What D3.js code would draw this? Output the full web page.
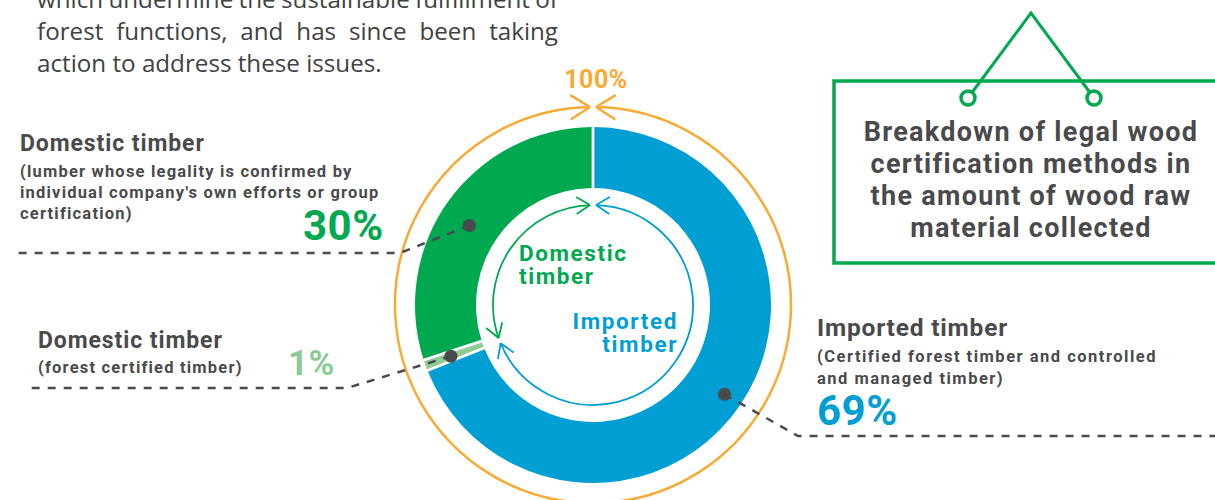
<!DOCTYPE html>
<meta charset="utf-8">
<style>
body { margin: 0; background: #fff; }
svg { display: block; }
.para { font: 400 24.2px "Open Sans", sans-serif; fill: #414143; }
.lbl { font-family: Roboto, sans-serif; font-weight: 700; fill: #4a4a4c; }
.head { font-size: 23px; letter-spacing: 0.9px; }
.head.big { font-size: 24.5px; letter-spacing: 0.8px; }
.sub { font-size: 16.5px; letter-spacing: 1.2px; }
.sub.wide { letter-spacing: 1.5px; }
.pct { font-size: 42px; letter-spacing: 0.5px; }
.pct.small { font-size: 35px; }
.title { font-family: Roboto, sans-serif; font-weight: 700; font-size: 27px; fill: #4a4a4c; letter-spacing: 1.3px; text-anchor: middle; }
.lead { fill: none; stroke: #4a4a4c; stroke-width: 2.5; stroke-dasharray: 8 8; }
</style>
<svg width="1215" height="500"></svg>
<script src="https://d3js.org/d3.v7.min.js"></script>
<script>

////////// Data //////////////
var categories = ["Imported timber", "Domestic timber (forest certified)", "Domestic timber (own efforts / group)"];
var shares = [69, 1, 30];
var shareLabels = ["69%", "1%", "30%"];
var totalLabel = "100%";
var colors = ["#009fd3", "#8ccb94", "#00a94f"];

var paragraph = [
  "which undermine the sustainable fulfillment of",
  "forest functions, and has since been taking",
  "action to address these issues."
];
var titleLines = [
  "Breakdown of legal wood",
  "certification methods in",
  "the amount of wood raw",
  "material collected"
];

////////// Layout //////////////
var svg = d3.select("svg"),
    cx = 593, cy = 305,
    rOuter = 178, rInner = 117, rRing = 198, rInnerArrow = 100;

var green = "#00a94f", blue = "#009fd3", orange = "#f7ab35", dark = "#4a4a4c";

// top paragraph (justified, last line left)
var paraWidth = 521;
svg.selectAll(".para").data(paragraph).enter().append("text")
  .attr("class", "para")
  .attr("x", 37)
  .attr("y", function(d, i) { return 7.5 + i * 32.3; })
  .text(function(d) { return d; })
  .each(function(d, i) {
    if (i === paragraph.length - 1) return;
    var w = this.getComputedTextLength(),
        spaces = d.split(" ").length - 1;
    d3.select(this).style("word-spacing", ((paraWidth - w) / spaces) + "px");
  });

// title box
var box = svg.append("g");
box.append("rect")
  .attr("x", 834).attr("y", 81).attr("width", 400).attr("height", 182)
  .attr("fill", "none").attr("stroke", green).attr("stroke-width", 3.5);
box.append("path")
  .attr("d", "M968,98L1031,13L1094,98")
  .attr("fill", "none").attr("stroke", green).attr("stroke-width", 3);
[968, 1094].forEach(function(x) {
  box.append("circle").attr("cx", x).attr("cy", 98).attr("r", 7)
    .attr("fill", "#fff").attr("stroke", green).attr("stroke-width", 3.5);
});
box.selectAll(".title").data(titleLines).enter().append("text")
  .attr("class", "title")
  .attr("x", 1031)
  .attr("y", function(d, i) { return 141 + i * 32; })
  .text(function(d) { return d; });

////////// Donut //////////////
var g = svg.append("g").attr("transform", "translate(" + cx + "," + cy + ")");

var pie = d3.pie().sort(null).value(function(d) { return d; });
var arcs = pie(shares);

var arc = d3.arc()
  .innerRadius(rInner)
  .outerRadius(rOuter)
  .padRadius(100)
  .padAngle(0.028);

g.selectAll(".slice").data(arcs).enter().append("path")
  .attr("class", "slice")
  .attr("d", arc)
  .attr("fill", function(d, i) { return colors[i]; });

// arrows helpers (d3 angle: 0 = top, clockwise)
function pt(r, a) { return [r * Math.sin(a), -r * Math.cos(a)]; }

function arcPath(r, a0, a1, ccw) {
  var p = d3.path();
  p.arc(0, 0, r, a0 - Math.PI / 2, a1 - Math.PI / 2, ccw);
  return p.toString();
}

function chevron(r, a, dir, len, col, w) {
  // dir = +1 pointing clockwise, -1 counterclockwise
  var tip = pt(r, a);
  var dx = Math.cos(a) * dir, dy = Math.sin(a) * dir;
  var th = 32 * Math.PI / 180;
  var p = d3.path();
  [-th, th].forEach(function(t) {
    var ux = dx * Math.cos(t) - dy * Math.sin(t),
        uy = dx * Math.sin(t) + dy * Math.cos(t);
    p.moveTo(tip[0] - ux * len, tip[1] - uy * len);
    p.lineTo(tip[0], tip[1]);
  });
  g.append("path").attr("d", p.toString())
    .attr("fill", "none").attr("stroke", col).attr("stroke-width", w);
}

// orange total ring
var dRing = 3 / rRing;
g.append("path").attr("d", arcPath(rRing, dRing, 2 * Math.PI - dRing, false))
  .attr("fill", "none").attr("stroke", orange).attr("stroke-width", 2.5);
chevron(rRing, dRing, -1, 23, orange, 2.5);
chevron(rRing, 2 * Math.PI - dRing, 1, 23, orange, 2.5);

svg.append("text")
  .attr("class", "lbl")
  .attr("x", cx + 3).attr("y", 88)
  .attr("text-anchor", "middle")
  .style("font-size", "25px").style("fill", orange).style("letter-spacing", "0.5px")
  .text(totalLabel);

// inner arrows: domestic (ccw from top) and imported (cw from top)
var split = arcs[0].endAngle;
var dIn = 3 / rInnerArrow;
g.append("path").attr("d", arcPath(rInnerArrow, 2 * Math.PI - dIn, split + 0.04, true))
  .attr("fill", "none").attr("stroke", green).attr("stroke-width", 1.8);
chevron(rInnerArrow, 2 * Math.PI - dIn, 1, 16, green, 1.8);
chevron(rInnerArrow, split + 0.04, -1, 16, green, 1.8);

g.append("path").attr("d", arcPath(rInnerArrow, dIn, split - 0.015, false))
  .attr("fill", "none").attr("stroke", blue).attr("stroke-width", 1.8);
chevron(rInnerArrow, dIn, -1, 16, blue, 1.8);
chevron(rInnerArrow, split - 0.015, 1, 16, blue, 1.8);

// center labels
var center = svg.append("g").attr("class", "lbl").style("font-size", "22.5px").style("letter-spacing", "1.6px");
center.append("text").attr("x", 519).attr("y", 261).style("fill", green).text("Domestic");
center.append("text").attr("x", 519).attr("y", 284).style("fill", green).text("timber");
center.append("text").attr("x", 678).attr("y", 329).attr("text-anchor", "end").style("fill", blue).text("Imported");
center.append("text").attr("x", 678).attr("y", 352).attr("text-anchor", "end").style("fill", blue).text("timber");

////////// Leaders + labels //////////////
// where on each slice the dot sits (fraction along the slice, radius),
// then elbow and end of each dashed leader
var leaders = [
  { t: 0.5, r: 159, elbow: [798, 436], end: [1215, 436] },
  { t: 0.5, r: 151, elbow: [347, 388], end: [30, 388] },
  { t: 0.47, r: 147, elbow: [400, 253], end: [17, 253] }
];

arcs.forEach(function(d, i) {
  var L = leaders[i];
  var a = d.startAngle + L.t * (d.endAngle - d.startAngle);
  var c = pt(L.r, a);
  var x = cx + c[0], y = cy + c[1];
  svg.append("path").attr("class", "lead")
    .attr("d", "M" + x + "," + y + "L" + L.elbow + "L" + L.end);
  svg.append("circle").attr("cx", x).attr("cy", y).attr("r", 6.5).attr("fill", dark);
});

function label(x, lines) {
  lines.forEach(function(l) {
    svg.append("text")
      .attr("class", "lbl " + l.cls)
      .attr("x", l.x !== undefined ? l.x : x)
      .attr("y", l.y)
      .style("fill", l.fill || null)
      .text(l.t);
  });
}

label(20, [
  { cls: "head", y: 151, t: "Domestic timber" },
  { cls: "sub", y: 177, t: "(lumber whose legality is confirmed by" },
  { cls: "sub", y: 198, t: "individual company's own efforts or group" },
  { cls: "sub", y: 219, t: "certification)" },
  { cls: "pct", x: 303, y: 240, fill: colors[2], t: shareLabels[2] }
]);

label(38, [
  { cls: "head", y: 348, t: "Domestic timber" },
  { cls: "sub", y: 373, t: "(forest certified timber)" },
  { cls: "pct small", x: 288, y: 375, fill: colors[1], t: shareLabels[1] }
]);

label(817, [
  { cls: "head big", y: 336, t: "Imported timber" },
  { cls: "sub wide", y: 362, t: "(Certified forest timber and controlled" },
  { cls: "sub wide", y: 384, t: "and managed timber)" },
  { cls: "pct", y: 425, fill: colors[0], t: shareLabels[0] }
]);

</script>
